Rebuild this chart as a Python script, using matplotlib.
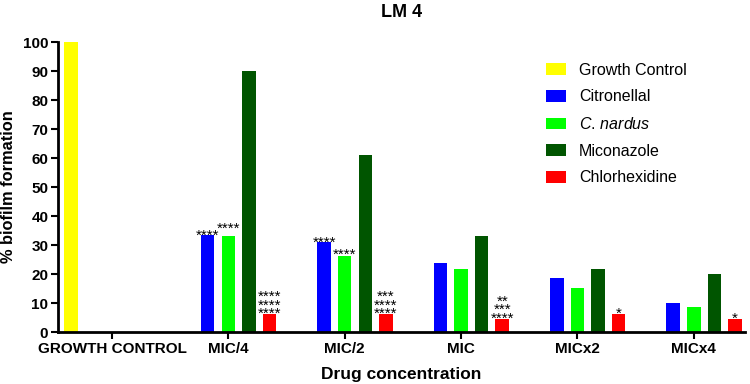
import numpy as np
import matplotlib.pyplot as plt

plt.rcParams['font.family'] = ['Liberation Sans', 'DejaVu Sans']
plt.rcParams['mathtext.fontset'] = 'custom'
plt.rcParams['mathtext.rm'] = 'Liberation Sans'
plt.rcParams['mathtext.it'] = 'Liberation Sans:italic'

groups = ['GROWTH CONTROL', 'MIC/4', 'MIC/2', 'MIC', 'MICx2', 'MICx4']
growth_control = [100, 0, 0, 0, 0, 0]
citronellal = [0, 33.3, 31.0, 23.7, 18.5, 10.0]
c_nardus = [0, 33.1, 26.3, 21.7, 15.3, 8.6]
miconazole = [0, 90.0, 61.0, 33.0, 21.7, 19.9]
chlorhexidine = [0, 6.1, 6.2, 4.6, 6.2, 4.4]

series = [growth_control, citronellal, c_nardus, miconazole, chlorhexidine]
names = ['Growth Control', 'Citronellal', r'$\mathit{C.\,nardus}$', 'Miconazole', 'Chlorhexidine']
colors = ['#ffff00', '#0000ff', '#00ff00', '#005500', '#ff0000']

# significance marks per series (group index -> text)
stars_cit = {1: '****', 2: '****'}
stars_chx = {1: '****\n****\n****', 2: '***\n****\n****', 3: '**\n***\n****', 4: '*', 5: '*'}

fig = plt.figure(figsize=(7.5, 3.84), dpi=100)
ax = fig.add_axes([0.0773, 0.1354, 0.916, 0.7552])

x = np.arange(len(groups))
step = 0.177
width = 0.116
bars = []
for i, (vals, name, c) in enumerate(zip(series, names, colors)):
    b = ax.bar(x + (i - 2) * step, vals, width, color=c, label=name)
    bars.append(b)


def mark(barset, marks, dy=1, dx=0):
    for gi, txt in marks.items():
        r = barset[gi]
        ax.annotate(txt, (r.get_x() + r.get_width() / 2, r.get_height()),
                    xytext=(dx, dy), textcoords='offset points', ha='center', va='bottom',
                    fontsize=11, linespacing=0.5)


mark(bars[1], stars_cit, dy=-5.5)
mark(bars[2], {1: '****'}, dy=0.5)
mark(bars[2], {2: '****'}, dy=-4.5)
mark(bars[4], stars_chx, dy=-5)

ax.set_xlim(-0.464, 5.44)
ax.set_ylim(0, 100)
ax.set_yticks(np.arange(0, 101, 10))
ax.set_xticks(x)
ax.set_xticklabels(groups, fontweight='bold', fontsize=11)
for t in ax.get_yticklabels():
    t.set_fontweight('bold')
    t.set_fontsize(11)
ax.tick_params(width=1.5, length=5, pad=2)
for s in ['top', 'right']:
    ax.spines[s].set_visible(False)
for s in ['left', 'bottom']:
    ax.spines[s].set_linewidth(2)

ax.set_ylabel('% biofilm formation', fontweight='bold', fontsize=11.8, labelpad=5)
ax.set_xlabel('Drug concentration', fontweight='bold', fontsize=12.5, labelpad=8)
ax.set_title('LM 4', fontweight='bold', fontsize=13, pad=18)

ax.legend(loc='upper left', bbox_to_anchor=(0.689, 0.978), frameon=False, fontsize=11.5,
          handlelength=1.3, handleheight=0.75, labelspacing=0.73, handletextpad=0.8)

fig.savefig('out.png', dpi=100)
